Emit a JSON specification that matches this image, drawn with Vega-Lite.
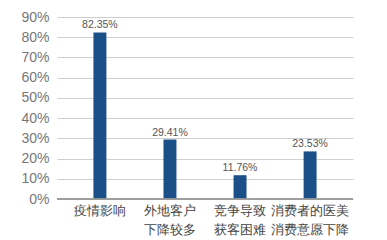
{
  "$schema": "https://vega.github.io/schema/vega-lite/v6.json",
  "width": 296,
  "height": 182,
  "autosize": "none",
  "padding": {"left": 57, "top": 17, "right": 34, "bottom": 41},
  "background": "white",
  "config": {"view": {"stroke": null}, "font": "Liberation Sans"},
  "data": {"values": [
    {"label": "疫情影响", "value": 0.8235},
    {"label": "外地客户|下降较多", "value": 0.2941},
    {"label": "竞争导致|获客困难", "value": 0.1176},
    {"label": "消费者的医美|消费意愿下降", "value": 0.2353}
  ]},
  "encoding": {
    "x": {
      "field": "label", "type": "nominal", "sort": null,
      "scale": {"paddingInner": 0.815, "paddingOuter": 0.52},
      "axis": {
        "title": null, "labelAngle": 0, "ticks": false, "domain": false,
        "labelExpr": "split(datum.label, '|')",
        "labelFontSize": 13, "labelColor": "#444", "labelPadding": 5,
        "labelLineHeight": 19, "labelBaseline": "top"
      }
    },
    "y": {
      "field": "value", "type": "quantitative",
      "scale": {"domain": [0, 0.9]},
      "axis": {
        "title": null, "format": ".0%", "values": [0, 0.1, 0.2, 0.3, 0.4, 0.5, 0.6, 0.7, 0.8, 0.9],
        "ticks": false, "domain": false, "labelFontSize": 14, "labelColor": "#777",
        "labelPadding": 8, "gridColor": "#cfcfcf", "gridWidth": 1
      }
    }
  },
  "layer": [
    {"mark": {"type": "bar", "color": "#1a4f87"}},
    {
      "mark": {"type": "rule", "color": "#999", "strokeWidth": 1},
      "encoding": {"x": null, "y": {"datum": 0}}
    },
    {
      "mark": {"type": "text", "dy": -7, "fontSize": 10.5, "color": "#555"},
      "encoding": {"text": {"field": "value", "format": ".2%"}}
    }
  ]
}
